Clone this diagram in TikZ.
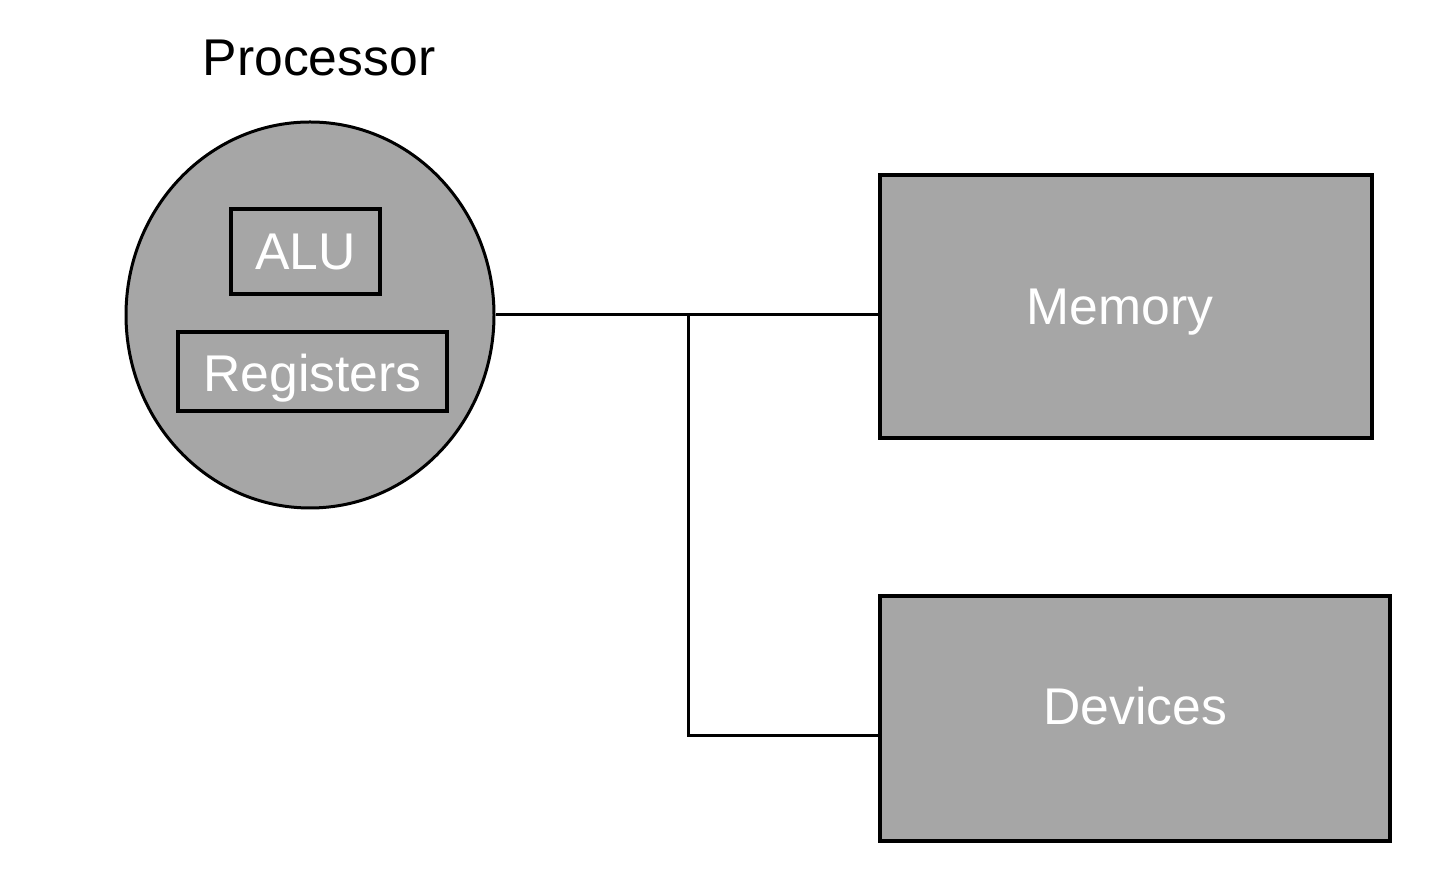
\documentclass[tikz,border=0pt]{standalone}
\usepackage{fontspec}
\setmainfont{Liberation Sans}
\usepackage{tikz}
\usetikzlibrary{positioning, shapes.geometric, calc}

\definecolor{unitgray}{HTML}{A6A6A6}

% text with its baseline #1 below the node centre
\newcommand{\basedown}[2]{\smash{\raisebox{-#1}{#2}}}

\tikzset{
  unit/.style={draw=black,line width=0.35mm,fill=unitgray,text=white,
    inner sep=0pt,font=\fontsize{14.7}{17}\selectfont},
  part/.style={draw=black,line width=0.35mm,inner sep=0pt,text=white,
    font=\fontsize{14.7}{17}\selectfont},
  bus/.style={line width=0.3mm}
}

\begin{document}
\begin{tikzpicture}[x=0.1mm,y=-0.1mm]
  \useasboundingbox (0,0) rectangle (1440,878);

  \node[font=\fontsize{14.7}{17}\selectfont] (proclabel) at (319,58) {Processor};

  \node[unit,ellipse,line width=0.3mm,minimum width=3.68cm,minimum height=3.86cm] (proc) at (310,315) {};
  \node[part,minimum width=1.49cm,minimum height=0.85cm] (alu) at (305.5,251.5) {\basedown{1.85mm}{ALU}};
  \node[part,minimum width=2.69cm,minimum height=0.79cm] (regs) at (312.5,371.5) {\basedown{2.05mm}{Registers}};

  \node[unit,minimum width=4.92cm,minimum height=2.63cm] (mem) at (1126,306.5) {\hspace*{-1.2mm}\basedown{1.85mm}{Memory}};
  \node[unit,minimum width=5.10cm,minimum height=2.45cm] (dev) at (1135,718.5) {\basedown{0.65mm}{Devices}};

  \coordinate (memin) at (proc.east -| mem.west);
  \coordinate (split) at (688,315);
  \coordinate (devin) at (880,736);

  \draw[bus] (proc.east) -- (memin);
  \draw[bus] (split) |- (devin);
\end{tikzpicture}
\end{document}
